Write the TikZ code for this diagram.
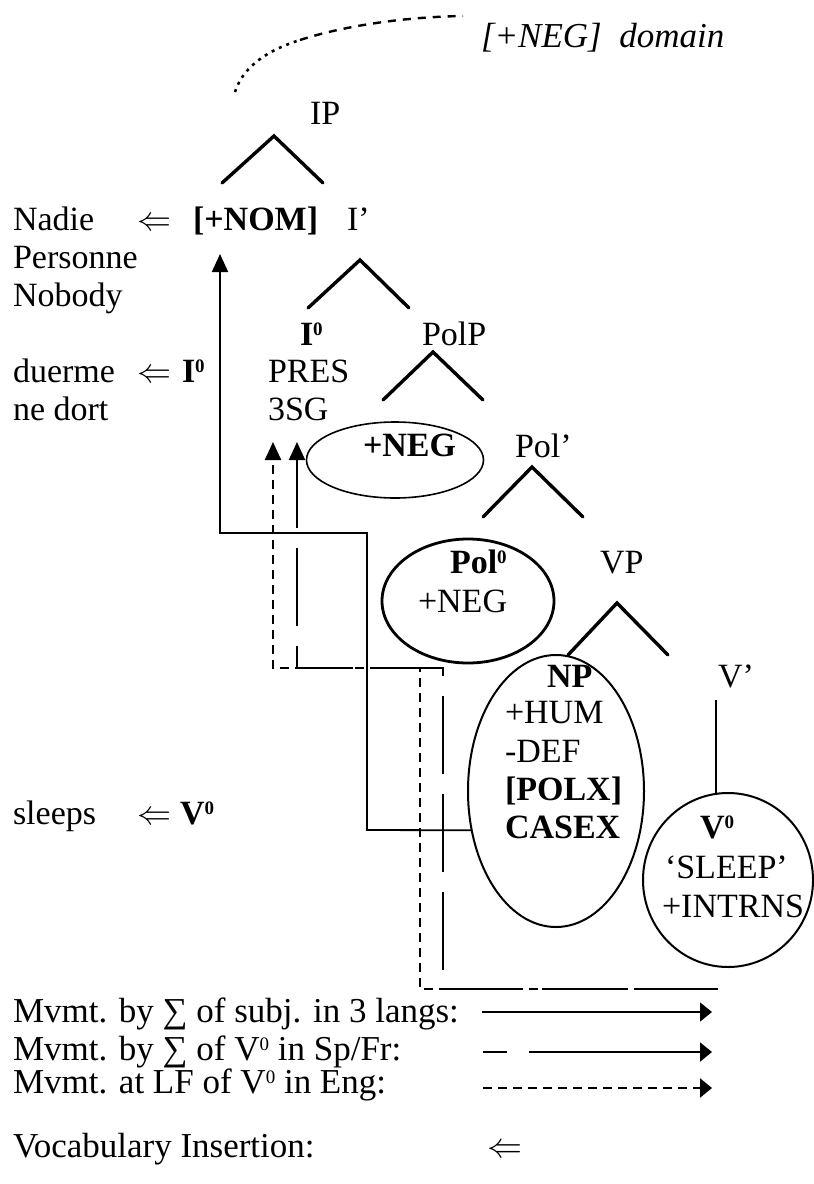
\RequirePackage{fix-cm}
\documentclass[tikz,border=0pt]{standalone}
\usepackage{fontspec}
\setmainfont{Liberation Serif}
\usetikzlibrary{shapes.geometric,arrows.meta}
\newcommand\dfont{\fontsize{34}{40}\selectfont}
\newcommand\lfont{\fontsize{35}{41}\selectfont}
\newcommand\zsup{\raisebox{10pt}{\fontsize{19}{19}\selectfont 0}}
\begin{document}
\begin{tikzpicture}[x=1pt,y=-1pt,
  lab/.style={anchor=base west, inner sep=0pt, outer sep=0pt, font=\dfont},
  leg/.style={anchor=base west, inner sep=0pt, outer sep=0pt, font=\lfont},
  branch/.style={line width=3.4pt, line join=miter, line cap=round},
  ell/.style={draw, ellipse, inner sep=0pt, outer sep=0pt},
  bigtip/.style={-{Triangle[length=18pt,width=16pt]}},
  smalltip/.style={-{Triangle[length=12pt,width=19pt]}},
  subj/.style={line width=1.8pt},
  vsf/.style={line width=2pt, dash pattern=on 78pt off 20pt},
  veng/.style={line width=2.4pt, dash pattern=on 9pt off 6pt},
  legdash/.style={line width=2pt, dash pattern=on 24pt off 22pt on 200pt off 1pt},
]
\useasboundingbox (0,0) rectangle (814,1184);

% [+NEG] domain
\node[lab, font=\fontsize{35}{41}\selectfont\itshape] (dom) at (481,47) {[+NEG]\ \ domain};
\coordinate (domA) at (235,92);
\coordinate (domM) at (300,40);
\coordinate (domB) at (463,16);
\draw[line width=2.6pt, dash pattern=on 3pt off 5pt] (domA) .. controls (242,70) and (262,52) .. (domM);
\draw[line width=2.4pt, dash pattern=on 8pt off 7pt] (domM) .. controls (340,27) and (400,17) .. (domB);

% IP
\node[lab] (ip) at (310,124) {IP};
\path (222,183) coordinate (ipL) (274,136) coordinate (ipA) (323,183) coordinate (ipR);
\draw[branch] (ipL) -- (ipA) -- (ipR);

% row Nadie
\node[lab] (nadie) at (13,230) {Nadie};
\node[lab] (arr1) at (137,230) {$\Leftarrow$};
\node[lab] (nom) at (193,230) {\textbf{[+NOM]}};
\node[lab] (ibar) at (347,230) {I’};
\node[lab] (personne) at (13,268) {Personne};
\node[lab] (nobody) at (13,306) {Nobody};
\path (308,308) coordinate (ibL) (360,260) coordinate (ibA) (409,308) coordinate (ibR);
\draw[branch] (ibL) -- (ibA) -- (ibR);

% I0 / PolP
\node[lab] (izero) at (300,345) {\textbf{I\zsup}};
\node[lab] (polp) at (422,345) {PolP};
\path (383,400) coordinate (ppL) (433,352) coordinate (ppA) (483,400) coordinate (ppR);
\draw[branch] (ppL) -- (ppA) -- (ppR);

\node[lab] (duerme) at (13,382) {duerme};
\node[lab] (arr2) at (137,382) {$\Leftarrow$};
\node[lab] (izero2) at (182,382) {\textbf{I\zsup}};
\node[lab] (pres) at (268,382) {PRES};
\node[lab] (nedort) at (13,420) {ne dort};
\node[lab] (sg) at (268,420) {3SG};

% +NEG spec ellipse
\node[ell, line width=1.6pt, minimum width=177pt, minimum height=76pt] (negell) at (395,460) {};
\node[lab] (negtxt) at (363,456) {\textbf{+NEG}};
\node[lab] (polbar) at (515,457) {Pol’};
\path (483,517) coordinate (pbL) (532,467) coordinate (pbA) (583,517) coordinate (pbR);
\draw[branch] (pbL) -- (pbA) -- (pbR);

% Pol0 ellipse
\node[ell, line width=2.8pt, minimum width=172pt, minimum height=124pt] (polell) at (468,601) {};
\node[lab] (polzero) at (450,573) {\textbf{Pol\zsup}};
\node[lab] (polneg) at (418,612) {+NEG};
\node[lab] (vp) at (600,573) {VP};
\path (568,655) coordinate (vpL) (617,603) coordinate (vpA) (668,655) coordinate (vpR);
\draw[branch] (vpL) -- (vpA) -- (vpR);

% NP ellipse
\node[ell, line width=2pt, minimum width=176pt, minimum height=272pt] (npell) at (556,791) {};
\node[lab] (np) at (547,687) {\textbf{NP}};
\node[lab] (hum) at (505,723) {+HUM};
\node[lab] (def) at (505,762) {-DEF};
\node[lab] (polx) at (505,800) {\textbf{[POLX]}};
\node[lab] (casex) at (505,838) {\textbf{CASEX}};

% V' and V0
\node[lab] (vbar) at (718,687) {V’};
\node[ell, line width=2pt, minimum width=170pt, minimum height=174pt] (vell) at (728,880) {};
\coordinate (vbarlow) at (716,700);
\draw[line width=1.8pt] (vbarlow) -- (vbarlow |- vell.north);
\node[lab] (vzero) at (700,838) {\textbf{V\zsup}};
\node[lab] (sleep) at (665,878) {‘SLEEP’};
\node[lab] (intrns) at (662,917) {+INTRNS};

% sleeps row
\node[lab] (sleeps) at (13,824) {sleeps};
\node[lab] (arr3) at (137,824) {$\Leftarrow$};
\node[lab] (vzero2) at (180,824) {\textbf{V\zsup}};

% movement paths
\coordinate (nomtip) at (220,254);
\draw[subj, bigtip] (npell.205) -- (367,830) -- (367,533) -- (220,533) -- (nomtip);
\coordinate (vstart) at (718,989);
\coordinate (engtip) at (273,442);
\coordinate (sftip) at (297,442);
\draw[veng, bigtip] (vstart) -- (420,989) -- (420,668) -- (273,668) -- (engtip);
\draw[vsf, bigtip] (vstart) -- (443,989) -- (443,668) -- (297,668) -- (sftip);

% legend
\node[leg] (lg1) at (13,1022) {Mvmt. by ∑ of subj. in 3 langs:};
\node[leg] (lg2) at (13,1060) {Mvmt. by ∑ of V\zsup\ in Sp/Fr:};
\node[leg] (lg3) at (13,1093) {Mvmt. at LF of V\zsup\ in Eng:};
\node[leg] (lg4) at (13,1157) {Vocabulary Insertion:};
\node[leg] (lgarr) at (487,1157) {$\Leftarrow$};
\path (482,1012) coordinate (l1s) (712,1012) coordinate (l1e)
      (483,1052) coordinate (l2s) (712,1052) coordinate (l2e)
      (483,1088) coordinate (l3s) (712,1088) coordinate (l3e);
\draw[subj, smalltip] (l1s) -- (l1e);
\draw[legdash, smalltip] (l2s) -- (l2e);
\draw[veng, smalltip] (l3s) -- (l3e);
\end{tikzpicture}
\end{document}
